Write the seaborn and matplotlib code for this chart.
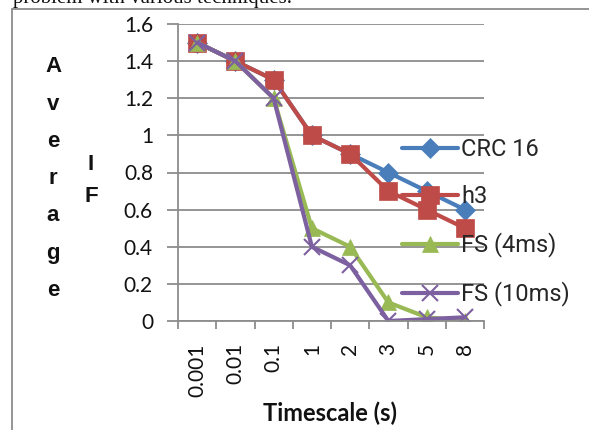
import matplotlib
matplotlib.use("Agg")
import matplotlib.pyplot as plt
import seaborn as sns
import numpy as np
from matplotlib.lines import Line2D

categories = ["0.001", "0.01", "0.1", "1", "2", "3", "5", "8"]
crc16 = [1.5, 1.4, 1.3, 1.0, 0.9, 0.8, 0.7, 0.6]
h3 = [1.5, 1.4, 1.3, 1.0, 0.9, 0.7, 0.6, 0.5]
fs4 = [1.5, 1.4, 1.2, 0.5, 0.4, 0.1, 0.02, 0.0]
fs10 = [1.5, 1.4, 1.2, 0.4, 0.3, 0.0, 0.01, 0.02]
series_names = ["CRC 16", "h3", "FS (4ms)", "FS (10ms)"]
yticks = [0, 0.2, 0.4, 0.6, 0.8, 1, 1.2, 1.4, 1.6]

sns.set_theme(style="white")
plt.rcParams['font.family'] = ['Lato', 'DejaVu Sans']

W, H = 589, 430
fig = plt.figure(figsize=(W / 100, H / 100), dpi=100)
ax = fig.add_axes([178 / W, 1 - 321 / H, (484 - 178) / W, (321 - 24) / H])

colors = ["#4A7EBB", "#BE4B48", "#98B954", "#7D60A0"]
markers = ["D", "s", "^", "x"]
msizes = [10, 13, 12, 12]
pos = np.arange(len(categories))
handles = []
for vals, name, c, m, ms in zip([crc16, h3, fs4, fs10], series_names, colors, markers, msizes):
    sns.lineplot(x=pos, y=vals, ax=ax, color=c, linewidth=3, marker=m, markersize=ms,
                 markeredgecolor=c, markeredgewidth=1.5 if m == "x" else 0.5, legend=False)
    handles.append(Line2D([0], [0], color=c, linewidth=3, marker=m, markersize=ms,
                          markeredgecolor=c, markeredgewidth=1.5 if m == "x" else 0.5))

ax.set_xlim(-0.5, len(categories) - 0.5)
ax.set_ylim(0, 1.6)
ax.set_yticks(yticks)
ax.set_yticklabels(["0", "0.2", "0.4", "0.6", "0.8", "1", "1.2", "1.4", "1.6"], fontsize=15, color="#111111")
ax.yaxis.grid(True, color="#8c8c8c", linewidth=1.3)
ax.tick_params(axis="y", length=8, width=1.3, color="#8c8c8c", pad=10, left=True)
ax.set_xticks(pos)
ax.set_xticklabels(categories, rotation=90, fontsize=15, color="#111111")
ax.tick_params(axis="x", length=0, pad=16)
ax.set_xticks(np.arange(-0.5, len(categories), 1), minor=True)
ax.tick_params(axis="x", which="minor", length=6, width=1.3, color="#8c8c8c", bottom=True)
for s in ["top", "right"]:
    ax.spines[s].set_visible(False)
for s in ["left", "bottom"]:
    ax.spines[s].set_color("#8c8c8c")
    ax.spines[s].set_linewidth(1.3)
ax.set_xlabel("")
ax.set_ylabel("")

leg = fig.legend(handles, series_names, loc="upper left", bbox_to_anchor=(381 / W, 1 - 117 / H),
                 frameon=False, handlelength=2.35, handletextpad=0.15, labelspacing=1.02,
                 prop={"family": "Roboto", "size": 17})

# y-axis label, letters stacked
ylab_font = dict(fontsize=16, fontweight="bold", family=["Liberation Sans Narrow", "Liberation Sans"], color="#111111")
for i, ch in enumerate("Average"):
    fig.text(53 / W, 1 - (67 + i * 37.2) / H, ch, ha="center", va="center", **ylab_font)
for i, ch in enumerate("IF"):
    fig.text(91 / W, 1 - (165 + i * 32) / H, ch, ha="center", va="center", **ylab_font)

fig.text(330 / W, 1 - 413 / H, "Timescale (s)", ha="center", va="center",
         fontsize=17, fontweight="bold", family="Lato", color="#111111")

# document context: cropped caption and chart border
fig.text(13 / W, 1 - 3 / H, "problem with various techniques.", ha="left", va="baseline",
         fontsize=15, family="Liberation Serif", color="#111111")
fig.add_artist(Line2D([12 / W, 1.0], [1 - 9 / H, 1 - 9 / H], color="#8c8c8c", linewidth=1.3))
fig.add_artist(Line2D([12 / W, 12 / W], [0, 1 - 9 / H], color="#8c8c8c", linewidth=1.3))

fig.savefig("out.png", dpi=100)
